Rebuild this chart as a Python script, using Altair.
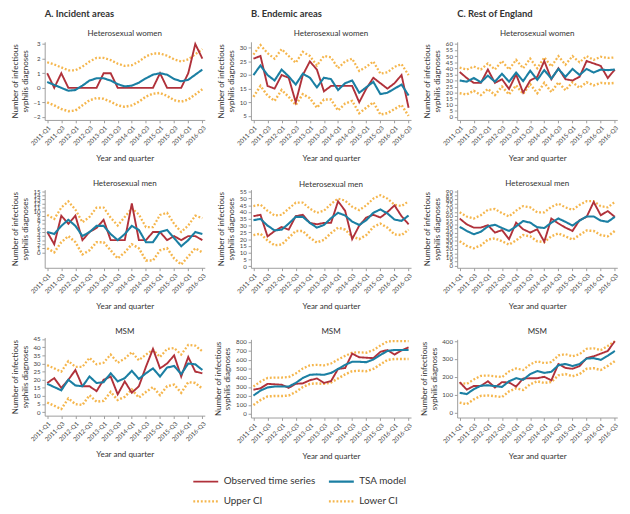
import altair as alt
import pandas as pd

quarters = ["2011-Q1", "2011-Q2", "2011-Q3", "2011-Q4",
            "2012-Q1", "2012-Q2", "2012-Q3", "2012-Q4",
            "2013-Q1", "2013-Q2", "2013-Q3", "2013-Q4",
            "2014-Q1", "2014-Q2", "2014-Q3", "2014-Q4",
            "2015-Q1", "2015-Q2", "2015-Q3", "2015-Q4",
            "2016-Q1", "2016-Q2", "2016-Q3"]
tick_quarters = ["2011-Q1", "2011-Q3", "2012-Q1", "2012-Q3", "2013-Q1", "2013-Q3",
                 "2014-Q1", "2014-Q3", "2015-Q1", "2015-Q3", "2016-Q1", "2016-Q3"]

series_names = ["Observed time series", "TSA model", "Upper CI", "Lower CI"]
series_colors = ["#b0313a", "#1b7fa3", "#f5b64d", "#f5b64d"]

column_titles = ["A. Incident areas", "B. Endemic areas", "C. Rest of England"]
row_titles = ["Heterosexual women", "Heterosexual men", "MSM"]

# A. Incident areas - Heterosexual women
a1_obs = [1, 0, 1, 0, 0, 0, 0, 0, 1, 1, 0, 0, 0, 0, 0, 0, 1, 0, 0, 0, 1, 3, 2]
a1_tsa = [0.4, 0.2, 0.0, -0.2, -0.15, 0.15, 0.5, 0.65, 0.65, 0.5, 0.25, 0.1, 0.15, 0.35, 0.65, 0.9, 1.0, 0.9, 0.6, 0.45, 0.55, 0.9, 1.25]
a1_up = [1.75, 1.6, 1.4, 1.2, 1.2, 1.45, 1.8, 2.05, 2.05, 1.9, 1.65, 1.5, 1.55, 1.8, 2.15, 2.35, 2.35, 2.2, 1.95, 1.8, 1.95, 2.3, 2.65]
a1_lo = [-1.0, -1.2, -1.45, -1.6, -1.55, -1.2, -0.85, -0.7, -0.75, -0.95, -1.2, -1.3, -1.2, -0.95, -0.6, -0.4, -0.35, -0.55, -0.85, -0.95, -0.8, -0.45, -0.1]

# B. Endemic areas - Heterosexual women
b1_obs = [26, 27, 16, 15, 20, 19, 10, 20, 25, 22, 14, 16, 16, 16, 16, 10, 15, 19, 17, 15, 17, 20, 8]
b1_tsa = [20, 23.5, 20, 18, 22, 19.5, 16.5, 20.5, 19, 15.5, 19, 18.5, 14.5, 17, 18, 13.5, 15.5, 17.5, 13, 13.5, 15, 16.5, 12.5]
b1_up = [27.5, 31, 28, 26, 29.5, 27, 24.5, 28.5, 27, 23.5, 27, 26.5, 22.5, 25, 26, 21.5, 23, 25, 20.5, 21, 23, 24, 20]
b1_lo = [12, 16, 12.5, 10.5, 14.5, 12, 9, 13, 11.5, 8, 11, 11, 7, 9.5, 10.5, 6, 8, 10, 5.5, 6, 7.5, 9, 5]

# C. Rest of England - Heterosexual women
c1_obs = [37, 32, 28, 28, 39, 28, 31, 23, 35, 20, 30, 33, 46, 31, 40, 31, 30, 33, 46, 44, 42, 32, 39]
c1_tsa = [30, 29, 32, 28.5, 34, 29, 35.5, 29, 36.5, 29.5, 38, 30.5, 38.5, 31.5, 39.5, 33, 39.5, 34.5, 39.5, 36.5, 39, 38.5, 39]
c1_up = [40.5, 39, 41.5, 39, 44, 39, 46, 39, 47, 40, 48, 40, 49, 41.5, 50, 43, 50, 45, 50, 47, 49.5, 48.5, 49]
c1_lo = [19.5, 18.5, 21.5, 18, 23, 18, 25, 18.5, 26, 19, 27, 19.5, 28, 20.5, 28.5, 22, 28.5, 24, 28.5, 26, 28, 27.5, 28]

# A. Incident areas - Heterosexual men
a2_obs = [5, 2, 9, 7, 9, 3, 5, 6, 8, 3, 3, 3, 12, 3, 3, 5, 5, 3, 4, 3, 4, 4, 3]
a2_tsa = [5, 4.5, 6.5, 8, 6.5, 4, 5, 6.5, 6.5, 4.5, 3, 4.5, 6.5, 5.5, 2.5, 2.5, 5, 5.5, 3.5, 1.5, 3, 5, 4.5]
a2_up = [9.2, 8.2, 11, 12.5, 10.5, 7.4, 8.7, 11, 11, 8.5, 6.6, 8.7, 10.8, 9.3, 6.2, 6.2, 9.2, 9.7, 7, 5, 6.6, 9, 8.4]
a2_lo = [1, 0, 2.5, 4, 2.5, -0.5, 0.5, 2.5, 2.5, 0.5, -1.5, 0, 2, 1, -2, -2, 0.5, 1, -1.5, -3, -1, 1, 0]

# B. Endemic areas - Heterosexual men
b2_obs = [37, 38, 22, 26, 29, 27, 37, 38, 32, 31, 32, 32, 48, 41, 20, 30, 36, 38, 36, 40, 45, 37, 31]
b2_tsa = [34, 35, 30, 26.5, 27, 31.5, 36.5, 36.5, 32, 28.5, 30.5, 35.5, 39.5, 37.5, 33, 30.5, 34, 39.5, 42, 39, 34.5, 33.5, 37.5]
b2_up = [44.5, 45.5, 41, 37.5, 38, 42.5, 47, 47, 42.5, 39.5, 41, 46, 50, 48.5, 44, 41.5, 45, 50, 52.5, 50, 45.5, 44.5, 48]
b2_lo = [23, 24, 19, 15.5, 16, 21, 26, 26, 21, 17.5, 19.5, 24.5, 28.5, 27, 22, 20, 23, 29, 31.5, 28.5, 23.5, 23, 27]

# C. Rest of England - Heterosexual men
c2_obs = [57, 50, 46, 46, 49, 40, 43, 32, 52, 44, 40, 44, 29, 57, 51, 46, 42, 55, 59, 77, 61, 66, 59]
c2_tsa = [47, 42, 38, 41, 47.5, 49.5, 45.5, 42, 47.5, 54, 52, 46.5, 45.5, 52, 57, 53, 48.5, 54.5, 59.5, 59.5, 54.5, 53, 59]
c2_up = [64.5, 59.5, 57, 61, 67.5, 68.5, 63.5, 59.5, 66.5, 72, 70.5, 64.5, 64.5, 71, 75, 70.5, 67.5, 73.5, 78, 78, 72, 70.5, 77]
c2_lo = [29.5, 24, 21, 24.5, 31.5, 33, 29.5, 25.5, 30.5, 37, 35.5, 29.5, 28.5, 35.5, 39, 35.5, 31.5, 37, 42.5, 42, 37, 35.5, 42]

# A. Incident areas - MSM
a3_obs = [18, 21, 15, 20, 26, 16, 16, 13, 20, 22, 11, 19, 12, 16, 28, 39, 27, 30, 35, 22, 34, 25, 24]
a3_tsa = [17.5, 15.5, 13.5, 20, 16.5, 16, 22, 18, 18.5, 24, 19, 21, 25.5, 20.5, 24, 27, 22, 27.5, 28.5, 23.5, 30, 29.5, 26]
a3_up = [29, 27, 25, 31.5, 28, 28, 33.5, 29.5, 30.5, 35.5, 30.5, 33, 37, 32, 35.5, 38.5, 34, 39, 39.5, 35.5, 41.5, 41, 37.5]
a3_lo = [6, 4, 2, 8.5, 5, 4.5, 10.5, 6.5, 7, 12.5, 7.5, 9.5, 14, 9, 12.5, 15.5, 10.5, 16, 17, 12, 18.5, 18, 14.5]

# B. Endemic areas - MSM
b3_obs = [270, 285, 335, 330, 325, 290, 335, 340, 375, 395, 345, 365, 500, 510, 670, 630, 625, 620, 690, 710, 660, 705, 740]
b3_tsa = [205, 260, 295, 305, 305, 305, 345, 400, 435, 440, 435, 455, 500, 545, 580, 580, 575, 605, 655, 700, 710, 710, 710]
b3_up = [305, 360, 400, 405, 405, 410, 450, 505, 540, 545, 540, 560, 605, 645, 680, 685, 680, 710, 760, 805, 810, 810, 810]
b3_lo = [100, 155, 195, 200, 200, 205, 245, 300, 335, 340, 335, 350, 395, 440, 475, 480, 475, 500, 550, 600, 610, 610, 610]

# C. Rest of England - MSM
c3_obs = [170, 128, 148, 148, 175, 140, 170, 168, 145, 190, 192, 192, 200, 180, 272, 250, 245, 260, 305, 315, 330, 345, 400]
c3_tsa = [110, 103, 130, 150, 152, 148, 143, 175, 192, 183, 215, 232, 222, 228, 265, 272, 260, 272, 302, 305, 295, 318, 345]
c3_up = [165, 160, 185, 205, 207, 203, 198, 230, 247, 238, 270, 287, 277, 283, 320, 327, 315, 327, 357, 360, 350, 373, 400]
c3_lo = [55, 46, 73, 93, 95, 91, 86, 118, 135, 126, 158, 175, 165, 171, 208, 215, 203, 215, 245, 248, 238, 261, 288]

panels = {
    "a1": (a1_obs, a1_tsa, a1_up, a1_lo),
    "b1": (b1_obs, b1_tsa, b1_up, b1_lo),
    "c1": (c1_obs, c1_tsa, c1_up, c1_lo),
    "a2": (a2_obs, a2_tsa, a2_up, a2_lo),
    "b2": (b2_obs, b2_tsa, b2_up, b2_lo),
    "c2": (c2_obs, c2_tsa, c2_up, c2_lo),
    "a3": (a3_obs, a3_tsa, a3_up, a3_lo),
    "b3": (b3_obs, b3_tsa, b3_up, b3_lo),
    "c3": (c3_obs, c3_tsa, c3_up, c3_lo),
}

rows = []
draw_order = [2, 3, 0, 1]  # CI first, then observed, then model on top
for key, arrs in panels.items():
    for si in draw_order:
        for q, v in zip(quarters, arrs[si]):
            rows.append({"panel": key, "quarter": q, "series": series_names[si],
                         "value": v, "ord": draw_order.index(si)})
df = pd.DataFrame(rows)

# y scale settings: (domain, tick values)
y_specs = {
    "a1": ([-2.2, 3.15], list(range(-2, 4))),
    "b1": ([3.5, 32.2], list(range(5, 31, 5))),
    "c1": ([-2.5, 61.8], list(range(0, 61, 5))),
    "a2": ([-3.8, 15.4], list(range(0, 16))),
    "b2": ([-1.2, 56.6], list(range(0, 56, 5))),
    "c2": ([-2.6, 91.9], list(range(0, 91, 5))),
    "a3": ([-2.1, 46], list(range(0, 46, 5))),
    "b3": ([-39, 828], list(range(0, 801, 100))),
    "c3": ([-29, 410], list(range(0, 401, 100))),
}

legend = alt.Legend(
    title=None, orient="none", legendX=156, legendY=461, columns=2, direction="horizontal",
    symbolType="stroke", symbolSize=700, symbolStrokeWidth=2, clipHeight=12,
    labelFontSize=10.5, labelColor="#333", labelFont="Lato",
    columnPadding=12, rowPadding=9, symbolOffset=0,
)

W, H = 170, 83


def panel(key, title, col_title=None):
    domain, ticks = y_specs[key]
    lines = alt.Chart(df).transform_filter(alt.datum.panel == key).mark_line().encode(
        x=alt.X("quarter:O", sort=quarters,
                scale=alt.Scale(type="point", padding=0.35),
                axis=alt.Axis(values=tick_quarters, title="Year and quarter",
                              labelAngle=-45, titlePadding=8)),
        y=alt.Y("value:Q", scale=alt.Scale(domain=domain, nice=False, zero=False),
                axis=alt.Axis(values=ticks, title=["Number of infectious", "syphilis diagnoses"],
                              labelOverlap=False, titlePadding=4)),
        color=alt.Color("series:N", scale=alt.Scale(domain=series_names, range=series_colors),
                        legend=legend),
        strokeDash=alt.StrokeDash("series:N",
                                  scale=alt.Scale(domain=series_names,
                                                  range=[[1, 0], [1, 0], [2, 2], [2, 2]]),
                                  legend=legend),
        strokeWidth=alt.StrokeWidth("series:N",
                                    scale=alt.Scale(domain=series_names, range=[2, 2.6, 1.1, 1.1]),
                                    legend=None),
        order=alt.Order("ord:Q"),
    )
    if col_title is not None:
        head = alt.Chart(pd.DataFrame({"t": [col_title], "s": [title]}))
        col_txt = head.mark_text(
            align="left", baseline="middle", fontSize=10, fontWeight="bold",
            font="Lato", color="#333").encode(
            text="t:N", x=alt.value(0), y=alt.value(-29))
        sub_txt = head.mark_text(
            align="center", baseline="middle", fontSize=8.5,
            font="Lato", color="#333").encode(
            text="s:N", x=alt.value(W / 2), y=alt.value(-9))
        return alt.layer(lines, col_txt, sub_txt).properties(width=W, height=H)
    return lines.properties(width=W, height=H, title=alt.Title(title))


cols = []
for ci, c in enumerate(["a", "b", "c"]):
    col = alt.vconcat(
        panel(c + "1", row_titles[0], column_titles[ci]),
        panel(c + "2", row_titles[1]),
        panel(c + "3", row_titles[2]),
        spacing=18,
    )
    cols.append(col)

chart = alt.hconcat(*cols, spacing=6).resolve_scale(
    x="independent", y="independent", color="shared", strokeDash="shared", strokeWidth="shared"
).properties(
    padding={"left": 2, "top": -14, "right": 2, "bottom": 0}
).configure_view(stroke=None).configure_axis(
    grid=False, domainColor="#999", tickColor="#999", tickSize=3,
    labelFont="Lato", labelFontSize=6.5, labelColor="#444",
    titleFont="Lato", titleFontSize=8.5, titleFontWeight="normal", titleColor="#333",
).configure_title(
    font="Lato", fontSize=8.5, fontWeight="normal", color="#333", offset=1, anchor="middle"
).configure_legend(labelFont="Lato")

chart.save("out.html", embed_options={"renderer": "svg", "actions": False})
